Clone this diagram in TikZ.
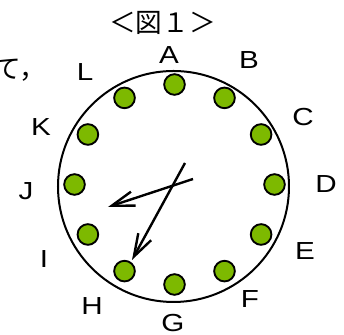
\documentclass[tikz,border=0pt]{standalone}
\usepackage{fontspec}
\newfontfamily\lblfont[FakeStretch=1.2]{Liberation Sans}
\newfontfamily\jpfont{Noto Sans CJK JP}
\usetikzlibrary{arrows.meta,calc}
\definecolor{dotgreen}{RGB}{125,185,0}
\begin{document}
\begin{tikzpicture}[x=0.75pt,y=0.75pt,
  hand/.style={line width=1.8pt,-{Straight Barb[length=17pt,width=11pt,line width=1.8pt]}},
  dot/.style={circle,draw,line width=1.4pt,fill=dotgreen,minimum size=15.5pt,inner sep=0pt},
  lbl/.style={font=\lblfont\fontsize{18.5}{20}\selectfont,inner sep=0pt},
  jp/.style={font=\jpfont\fontsize{20}{24}\selectfont,inner sep=0pt}]
  \useasboundingbox (0,0) rectangle (344,335);
  \clip (0,0) rectangle (344,335);
  \node[jp] (title) at (162.5,312) {＜図１＞};
  \node[jp,anchor=west] (prev) at (-5.5,265) {て，};
  \draw[line width=1.5pt] (173.5,148.5) circle (115.5);
  \coordinate (O) at (174.5,150.5);
  \foreach \k/\ang in {A/90,B/60,C/30,D/0,E/-30,F/-60,G/-90,H/-120,I/-150,J/180,K/150,L/120}
    \node[dot] (dot\k) at ($(O)+(\ang:100)$) {};
  \node[lbl] (lblA) at (169,279.5) {A};
  \node[lbl] (lblB) at (249,275) {B};
  \node[lbl] (lblC) at (303,218) {C};
  \node[lbl] (lblD) at (326,151) {D};
  \node[lbl] (lblE) at (305,84) {E};
  \node[lbl] (lblF) at (250,36) {F};
  \node[lbl] (lblG) at (173,11.5) {G};
  \node[lbl] (lblH) at (92,29) {H};
  \node[lbl] (lblI) at (44,76) {I};
  \node[lbl] (lblJ) at (26,144) {J};
  \node[lbl] (lblK) at (41,208) {K};
  \node[lbl] (lblL) at (85,262.5) {L};
  \coordinate (hourtail) at (193,156);
  \coordinate (hourtip) at (108,128);
  \coordinate (mintail) at (185,172);
  \coordinate (mintip) at (132,75);
  \draw[hand] (hourtail) -- (hourtip);
  \draw[hand] (mintail) -- (mintip);
\end{tikzpicture}
\end{document}
